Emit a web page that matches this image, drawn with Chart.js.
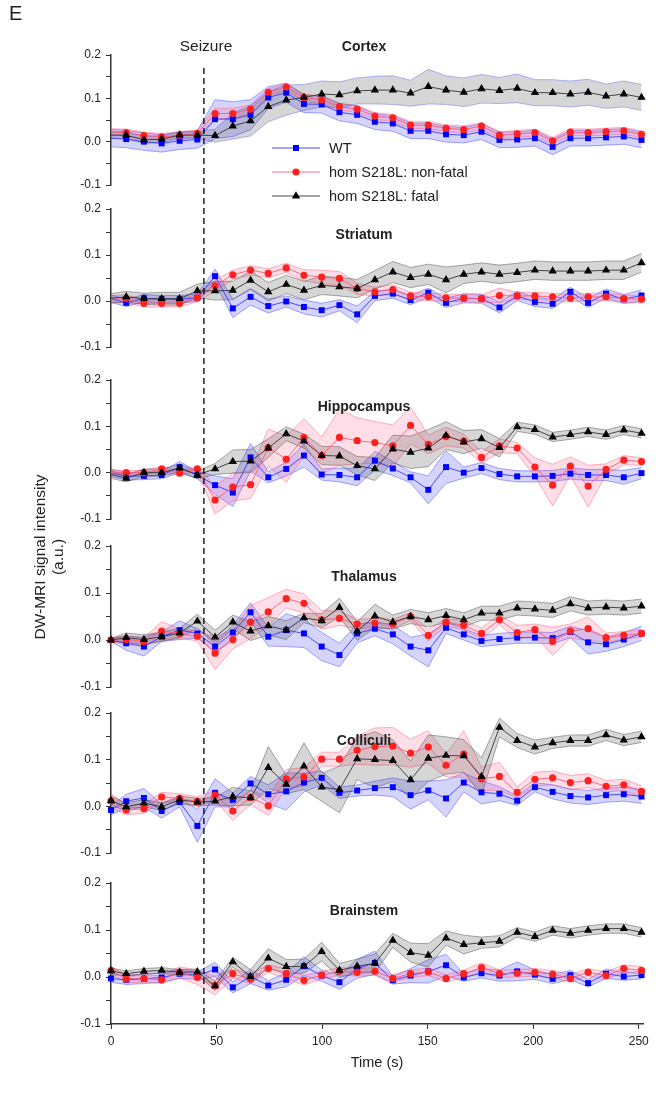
<!DOCTYPE html>
<html>
<head>
<meta charset="utf-8">
<script src="https://cdn.jsdelivr.net/npm/chart.js@4.4.0/dist/chart.umd.min.js"></script>
<style>
  html, body { margin: 0; padding: 0; background: #fff; }
  #page { position: relative; width: 671px; height: 1093px; overflow: hidden;
          font-family: "Liberation Sans", Arial, sans-serif; color: #222; }
  #page canvas { position: absolute; left: 0; top: 0; }
  .lbl { position: absolute; white-space: nowrap; z-index: 5; }
  .title { font-weight: bold; font-size: 14px; transform: translate(-50%, -50%); }
  .ytitle { font-size: 15.5px; transform: translate(-50%, -50%) rotate(-90deg); }
  .leg { font-size: 14.5px; transform: translateY(-50%); }
  .legsym { position: absolute; z-index: 5; }
</style>
</head>
<body>
<div id="page">
  <div class="lbl" style="left:9px;top:2px;font-size:20px;">E</div>
  <div class="lbl" style="left:206px;top:46px;font-size:15.5px;transform:translate(-50%,-50%);">Seizure</div>
  <div class="lbl ytitle" style="left:40px;top:557px;">DW-MRI signal intensity</div>
  <div class="lbl ytitle" style="left:58px;top:557px;">(a.u.)</div>
  <div id="legend"></div>
  <div id="titles"></div>
</div>
<script>
// Acquisition times (s)
const TIMES = [0, 7.2, 15.6, 24.0, 32.5, 40.9, 49.3, 57.7, 66.1, 74.5, 83.0, 91.4, 99.8, 108.2,
  116.6, 125.0, 133.5, 141.9, 150.3, 158.7, 167.1, 175.5, 184.0, 192.4, 200.8, 209.2, 217.6,
  226.0, 234.5, 242.9, 251.3];
const SEIZURE_TIME = 44;
const X_TICKS = [0, 50, 100, 150, 200, 250];
const Y_TICKS = [-0.1, -0.05, 0, 0.05, 0.1, 0.15, 0.2];
const SERIES_NAMES = ['WT', 'hom S218L: non-fatal', 'hom S218L: fatal'];
const REGIONS = ['Cortex', 'Striatum', 'Hippocampus', 'Thalamus', 'Colliculi', 'Brainstem'];

// Cortex: mean and SEM per group
const CORTEX_WT = [0.008, 0.006, 0.0, -0.004, 0.002, 0.005, 0.052, 0.052, 0.062, 0.102, 0.113, 0.087, 0.086, 0.068, 0.062, 0.046, 0.042, 0.025, 0.025, 0.017, 0.015, 0.023, 0.004, 0.005, 0.008, -0.012, 0.008, 0.008, 0.010, 0.012, 0.004];
const CORTEX_WT_SEM = [0.02, 0.02, 0.02, 0.02, 0.02, 0.02, 0.045, 0.04, 0.035, 0.025, 0.022, 0.02, 0.02, 0.02, 0.02, 0.018, 0.018, 0.018, 0.018, 0.018, 0.018, 0.018, 0.018, 0.018, 0.018, 0.018, 0.018, 0.018, 0.018, 0.018, 0.018];
const CORTEX_NF = [0.022, 0.021, 0.014, 0.011, 0.015, 0.019, 0.065, 0.065, 0.075, 0.114, 0.126, 0.102, 0.096, 0.081, 0.075, 0.059, 0.055, 0.038, 0.038, 0.031, 0.028, 0.036, 0.015, 0.018, 0.021, 0.002, 0.022, 0.021, 0.023, 0.025, 0.017];
const CORTEX_NF_SEM = [0.008, 0.008, 0.008, 0.008, 0.008, 0.008, 0.012, 0.012, 0.01, 0.008, 0.008, 0.008, 0.008, 0.008, 0.008, 0.008, 0.008, 0.008, 0.008, 0.008, 0.008, 0.008, 0.008, 0.008, 0.008, 0.008, 0.008, 0.008, 0.008, 0.008, 0.008];
const CORTEX_F = [0.015, 0.015, 0.004, 0.006, 0.015, 0.015, 0.014, 0.036, 0.048, 0.081, 0.096, 0.102, 0.110, 0.108, 0.117, 0.119, 0.119, 0.112, 0.127, 0.119, 0.114, 0.122, 0.118, 0.123, 0.113, 0.113, 0.110, 0.114, 0.105, 0.110, 0.102];
const CORTEX_F_SEM = [0.008, 0.008, 0.008, 0.008, 0.008, 0.008, 0.015, 0.03, 0.035, 0.035, 0.035, 0.03, 0.03, 0.03, 0.03, 0.032, 0.033, 0.03, 0.04, 0.033, 0.033, 0.033, 0.03, 0.033, 0.03, 0.03, 0.03, 0.03, 0.028, 0.03, 0.03];

// Striatum
const STR_WT = [0.005, -0.004, 0.006, 0.004, 0.004, 0.007, 0.054, -0.016, 0.009, -0.011, -0.001, -0.013, -0.020, -0.009, -0.029, 0.011, 0.016, 0.002, 0.018, -0.004, 0.006, 0.005, -0.014, 0.011, -0.002, -0.006, 0.020, -0.004, 0.016, 0.004, 0.012];
const STR_WT_SEM = [0.008, 0.008, 0.008, 0.008, 0.008, 0.008, 0.015, 0.02, 0.018, 0.015, 0.012, 0.015, 0.015, 0.012, 0.018, 0.01, 0.01, 0.01, 0.01, 0.01, 0.01, 0.01, 0.012, 0.01, 0.01, 0.01, 0.01, 0.01, 0.01, 0.01, 0.012];
const STR_NF = [0.004, 0.005, -0.005, -0.005, -0.005, 0.007, 0.033, 0.057, 0.067, 0.060, 0.072, 0.056, 0.052, 0.049, 0.027, 0.020, 0.025, 0.011, 0.009, 0.007, 0.006, 0.005, 0.012, 0.011, 0.011, 0.009, 0.006, 0.009, 0.009, 0.005, 0.004];
const STR_NF_SEM = [0.008, 0.008, 0.008, 0.008, 0.008, 0.008, 0.012, 0.01, 0.01, 0.01, 0.01, 0.012, 0.015, 0.015, 0.012, 0.01, 0.01, 0.008, 0.008, 0.008, 0.008, 0.008, 0.016, 0.008, 0.008, 0.008, 0.008, 0.008, 0.008, 0.008, 0.008];
const STR_F = [0.006, 0.009, 0.005, 0.005, 0.005, 0.022, 0.022, 0.023, 0.045, 0.020, 0.036, 0.023, 0.034, 0.031, 0.027, 0.046, 0.063, 0.051, 0.058, 0.046, 0.058, 0.063, 0.058, 0.062, 0.067, 0.065, 0.065, 0.065, 0.067, 0.067, 0.083];
const STR_F_SEM = [0.01, 0.012, 0.012, 0.014, 0.014, 0.015, 0.02, 0.02, 0.02, 0.02, 0.02, 0.02, 0.02, 0.02, 0.02, 0.02, 0.023, 0.022, 0.022, 0.028, 0.02, 0.02, 0.02, 0.02, 0.02, 0.02, 0.02, 0.02, 0.02, 0.02, 0.02];

// Hippocampus
const HIP_WT = [0.0, -0.008, -0.007, -0.005, 0.012, -0.005, -0.027, -0.043, 0.033, -0.010, 0.008, 0.037, -0.004, -0.005, -0.010, 0.026, 0.009, -0.010, -0.037, 0.012, 0.0, 0.010, -0.003, -0.008, -0.008, -0.007, -0.002, -0.005, -0.005, -0.010, -0.001];
const HIP_WT_SEM = [0.008, 0.008, 0.008, 0.008, 0.012, 0.008, 0.02, 0.03, 0.03, 0.012, 0.015, 0.025, 0.012, 0.015, 0.018, 0.02, 0.015, 0.012, 0.03, 0.035, 0.012, 0.012, 0.012, 0.012, 0.012, 0.012, 0.012, 0.012, 0.012, 0.015, 0.012];
const HIP_NF = [0.0, 0.0, 0.0, 0.008, -0.001, 0.008, -0.059, -0.031, -0.026, 0.054, 0.029, 0.076, 0.037, 0.076, 0.069, 0.065, 0.058, 0.102, 0.061, 0.078, 0.068, 0.033, 0.058, 0.053, 0.012, -0.027, 0.014, -0.029, 0.007, 0.027, 0.024];
const HIP_NF_SEM = [0.005, 0.005, 0.005, 0.005, 0.005, 0.005, 0.03, 0.03, 0.03, 0.04, 0.05, 0.04, 0.04, 0.06, 0.05, 0.045, 0.045, 0.04, 0.02, 0.02, 0.015, 0.012, 0.015, 0.012, 0.02, 0.045, 0.02, 0.045, 0.012, 0.01, 0.008];
const HIP_F = [-0.004, -0.012, 0.0, 0.0, 0.010, -0.005, 0.008, 0.024, 0.025, 0.053, 0.084, 0.068, 0.037, 0.036, 0.015, 0.008, 0.051, 0.044, 0.053, 0.080, 0.066, 0.073, 0.054, 0.099, 0.093, 0.077, 0.082, 0.088, 0.082, 0.092, 0.085];
const HIP_F_SEM = [0.008, 0.008, 0.008, 0.008, 0.008, 0.008, 0.012, 0.025, 0.025, 0.02, 0.015, 0.015, 0.02, 0.02, 0.02, 0.025, 0.03, 0.035, 0.04, 0.03, 0.025, 0.02, 0.02, 0.01, 0.01, 0.01, 0.01, 0.01, 0.01, 0.01, 0.01];

// Thalamus
const THA_WT = [0.0, -0.007, -0.014, 0.007, 0.021, 0.014, -0.014, 0.016, 0.059, 0.007, 0.021, 0.014, -0.014, -0.032, 0.014, 0.024, 0.012, -0.014, -0.022, 0.026, 0.012, -0.002, 0.002, 0.005, 0.005, 0.004, 0.017, -0.005, -0.009, 0.001, 0.014];
const THA_WT_SEM = [0.003, 0.015, 0.02, 0.01, 0.02, 0.01, 0.012, 0.015, 0.02, 0.02, 0.035, 0.03, 0.03, 0.025, 0.02, 0.015, 0.02, 0.02, 0.035, 0.012, 0.012, 0.012, 0.012, 0.012, 0.012, 0.012, 0.012, 0.025, 0.015, 0.015, 0.015];
const THA_NF = [0.0, 0.001, -0.003, 0.019, 0.014, 0.008, -0.028, 0.001, 0.038, 0.060, 0.088, 0.078, 0.043, 0.046, 0.034, 0.036, 0.034, 0.050, 0.010, 0.038, 0.031, 0.014, 0.043, 0.016, 0.022, -0.003, 0.019, 0.024, 0.005, 0.010, 0.014];
const THA_NF_SEM = [0.005, 0.008, 0.008, 0.02, 0.01, 0.01, 0.035, 0.02, 0.035, 0.03, 0.02, 0.02, 0.02, 0.015, 0.01, 0.01, 0.01, 0.008, 0.012, 0.008, 0.01, 0.012, 0.01, 0.015, 0.012, 0.03, 0.015, 0.025, 0.01, 0.008, 0.008];
const THA_F = [0.0, 0.005, 0.001, 0.007, 0.015, 0.040, 0.006, 0.038, 0.019, 0.030, 0.021, 0.047, 0.041, 0.069, 0.019, 0.051, 0.038, 0.050, 0.043, 0.052, 0.043, 0.057, 0.057, 0.068, 0.066, 0.063, 0.077, 0.068, 0.070, 0.068, 0.072];
const THA_F_SEM = [0.003, 0.01, 0.01, 0.01, 0.01, 0.015, 0.015, 0.015, 0.02, 0.02, 0.02, 0.01, 0.015, 0.02, 0.02, 0.025, 0.015, 0.015, 0.015, 0.015, 0.015, 0.015, 0.015, 0.015, 0.015, 0.015, 0.015, 0.015, 0.015, 0.015, 0.015];

// Colliculi
const COL_WT = [-0.008, 0.011, 0.018, -0.010, 0.009, -0.042, 0.029, 0.014, 0.049, 0.026, 0.032, 0.051, 0.061, 0.029, 0.034, 0.039, 0.041, 0.024, 0.034, 0.017, 0.051, 0.030, 0.027, 0.012, 0.041, 0.031, 0.022, 0.019, 0.024, 0.026, 0.021];
const COL_WT_SEM = [0.01, 0.015, 0.02, 0.015, 0.01, 0.035, 0.03, 0.015, 0.015, 0.02, 0.04, 0.02, 0.015, 0.012, 0.012, 0.015, 0.02, 0.03, 0.02, 0.04, 0.02, 0.025, 0.015, 0.01, 0.01, 0.015, 0.015, 0.015, 0.015, 0.015, 0.015];
const COL_NF = [0.012, -0.008, -0.005, 0.020, 0.017, 0.010, 0.024, -0.010, 0.019, 0.001, 0.059, 0.063, 0.101, 0.101, 0.120, 0.128, 0.129, 0.114, 0.127, 0.088, 0.112, 0.059, 0.064, 0.030, 0.058, 0.061, 0.051, 0.055, 0.043, 0.046, 0.032];
const COL_NF_SEM = [0.015, 0.01, 0.01, 0.01, 0.01, 0.01, 0.01, 0.02, 0.015, 0.02, 0.02, 0.02, 0.015, 0.015, 0.03, 0.04, 0.04, 0.03, 0.035, 0.025, 0.05, 0.025, 0.03, 0.012, 0.015, 0.015, 0.015, 0.015, 0.012, 0.012, 0.012];
const COL_F = [0.012, -0.001, 0.007, -0.001, 0.014, 0.009, 0.011, 0.021, 0.018, 0.083, 0.047, 0.086, 0.041, 0.036, 0.102, 0.100, 0.098, 0.057, 0.103, 0.109, 0.108, 0.064, 0.169, 0.141, 0.127, 0.136, 0.141, 0.141, 0.153, 0.142, 0.149];
const COL_F_SEM = [0.01, 0.008, 0.008, 0.008, 0.008, 0.008, 0.008, 0.02, 0.015, 0.045, 0.02, 0.05, 0.03, 0.05, 0.045, 0.06, 0.045, 0.04, 0.05, 0.04, 0.035, 0.04, 0.02, 0.015, 0.015, 0.012, 0.012, 0.012, 0.012, 0.012, 0.012];

// Brainstem
const BRA_WT = [-0.003, -0.006, -0.004, -0.001, 0.007, 0.003, 0.016, -0.022, 0.001, -0.018, -0.006, 0.023, 0.003, -0.011, 0.018, 0.030, -0.007, 0.003, 0.012, 0.025, -0.001, 0.008, 0.003, 0.012, 0.005, -0.004, 0.004, -0.013, 0.007, 0.001, 0.004];
const BRA_WT_SEM = [0.008, 0.01, 0.01, 0.01, 0.01, 0.008, 0.015, 0.012, 0.015, 0.01, 0.015, 0.02, 0.012, 0.015, 0.02, 0.025, 0.008, 0.015, 0.025, 0.023, 0.008, 0.01, 0.012, 0.02, 0.01, 0.01, 0.01, 0.008, 0.01, 0.008, 0.008];
const BRA_NF = [0.014, -0.004, -0.003, -0.006, 0.010, -0.001, -0.018, 0.007, -0.004, 0.018, 0.007, -0.007, 0.004, 0.012, 0.010, 0.012, -0.003, 0.007, 0.011, -0.003, 0.007, 0.020, 0.007, 0.008, 0.010, 0.006, -0.003, 0.010, 0.003, 0.018, 0.014];
const BRA_NF_SEM = [0.008, 0.008, 0.008, 0.008, 0.012, 0.015, 0.02, 0.01, 0.01, 0.008, 0.01, 0.01, 0.008, 0.008, 0.008, 0.008, 0.008, 0.008, 0.008, 0.008, 0.008, 0.01, 0.008, 0.008, 0.008, 0.008, 0.008, 0.008, 0.008, 0.008, 0.008];
const BRA_F = [0.013, 0.007, 0.012, 0.014, 0.010, 0.011, -0.019, 0.032, 0.001, 0.040, 0.022, 0.023, 0.054, 0.014, 0.023, 0.029, 0.078, 0.052, 0.046, 0.083, 0.069, 0.073, 0.076, 0.095, 0.086, 0.099, 0.093, 0.099, 0.103, 0.103, 0.095];
const BRA_F_SEM = [0.006, 0.006, 0.006, 0.006, 0.006, 0.006, 0.01, 0.01, 0.015, 0.02, 0.015, 0.015, 0.02, 0.015, 0.015, 0.02, 0.015, 0.02, 0.025, 0.015, 0.02, 0.012, 0.012, 0.01, 0.01, 0.01, 0.01, 0.01, 0.01, 0.01, 0.01];

// Group the arrays per region: [WT, non-fatal, fatal] each as [mean, sem]
const REGION_DATA = [
  [[CORTEX_WT, CORTEX_WT_SEM], [CORTEX_NF, CORTEX_NF_SEM], [CORTEX_F, CORTEX_F_SEM]],
  [[STR_WT, STR_WT_SEM], [STR_NF, STR_NF_SEM], [STR_F, STR_F_SEM]],
  [[HIP_WT, HIP_WT_SEM], [HIP_NF, HIP_NF_SEM], [HIP_F, HIP_F_SEM]],
  [[THA_WT, THA_WT_SEM], [THA_NF, THA_NF_SEM], [THA_F, THA_F_SEM]],
  [[COL_WT, COL_WT_SEM], [COL_NF, COL_NF_SEM], [COL_F, COL_F_SEM]],
  [[BRA_WT, BRA_WT_SEM], [BRA_NF, BRA_NF_SEM], [BRA_F, BRA_F_SEM]]
];

// Page layout of each panel (pixel rows of the y = 0.2 and y = -0.1 lines)
const PANEL_LAYOUT = [
  { top: 55,  bottom: 185,  titleY: 46,  firstMarker: false },
  { top: 209, bottom: 347,  titleY: 234, firstMarker: false },
  { top: 380, bottom: 519,  titleY: 406, firstMarker: false },
  { top: 546, bottom: 687,  titleY: 576, firstMarker: true },
  { top: 713, bottom: 853,  titleY: 740, firstMarker: true },
  { top: 883, bottom: 1024, titleY: 910, firstMarker: true }
];
const PLOT_LEFT = 111, PLOT_RIGHT = 643, PAGE_W = 671, PAGE_H = 1093;
const TITLE_X = 364;
const X_AXIS_HEIGHT = 52;

const STYLES = [
  { marker: '#0000ff', line: '#3a3aff', band: 'rgba(40,40,255,0.20)',  edge: 'rgba(70,70,255,0.6)',  shape: 'rect',     radius: 4.2 },
  { marker: '#ff2020', line: '#ff5a78', band: 'rgba(255,70,120,0.18)', edge: 'rgba(255,90,120,0.6)', shape: 'circle',   radius: 3.6 },
  { marker: '#000000', line: '#333333', band: 'rgba(70,70,70,0.22)',   edge: 'rgba(90,90,90,0.65)',  shape: 'triangle', radius: 4.8 }
];

Chart.defaults.font.family = '"Liberation Sans", Arial, sans-serif';
Chart.defaults.font.size = 12;
Chart.defaults.color = '#222';

function points(mean, sem, sign) {
  return TIMES.map((t, i) => ({ x: t, y: mean[i] + sign * (sem ? sem[i] : 0) }));
}

function buildDatasets(regionIdx) {
  const layout = PANEL_LAYOUT[regionIdx];
  const sets = [];
  REGION_DATA[regionIdx].forEach(([mean, sem], s) => {
    const st = STYLES[s];
    // fatal-group band in the cortex panel carries a bluish outline
    const edge = (regionIdx === 0 && s === 2) ? 'rgba(90,90,255,0.55)' : st.edge;
    const bandOrder = 5 - s;
    const lineOrder = 2 - s;
    sets.push({ label: SERIES_NAMES[s] + ' upper', data: points(mean, sem, 1), borderColor: edge,
      borderWidth: 0.8, pointRadius: 0, fill: false, order: bandOrder, tension: 0 });
    sets.push({ label: SERIES_NAMES[s] + ' lower', data: points(mean, sem, -1), borderColor: edge,
      borderWidth: 0.8, pointRadius: 0, fill: '-1', backgroundColor: st.band, order: bandOrder, tension: 0 });
    sets.push({ label: SERIES_NAMES[s], data: points(mean, null, 0), borderColor: st.line, borderWidth: 0.9,
      pointStyle: st.shape, backgroundColor: st.marker,
      pointRadius: (ctx) => (ctx.dataIndex === 0 && !layout.firstMarker) ? 0 : st.radius,
      pointBackgroundColor: st.marker, pointBorderColor: st.marker, pointBorderWidth: 0,
      fill: false, order: lineOrder, clip: false, tension: 0 });
  });
  return sets;
}

const seizureLine = {
  id: 'seizureLine',
  afterDraw(chart, args, opts) {
    if (!opts.enabled) return;
    const ctx = chart.ctx;
    const x = chart.scales.x.getPixelForValue(SEIZURE_TIME);
    ctx.save();
    ctx.setLineDash([6, 4]);
    ctx.lineWidth = 1.3;
    ctx.strokeStyle = '#000';
    ctx.beginPath();
    ctx.moveTo(x, opts.top);
    ctx.lineTo(x, chart.chartArea.bottom);
    ctx.stroke();
    ctx.restore();
  }
};

const page = document.getElementById('page');
REGIONS.forEach((name, r) => {
  const layout = PANEL_LAYOUT[r];
  const isLast = r === REGIONS.length - 1;
  const canvas = document.createElement('canvas');
  canvas.width = PAGE_W; canvas.height = PAGE_H;
  canvas.style.width = PAGE_W + 'px'; canvas.style.height = PAGE_H + 'px';
  page.appendChild(canvas);

  const padBottom = isLast ? PAGE_H - layout.bottom - X_AXIS_HEIGHT : PAGE_H - layout.bottom;
  new Chart(canvas, {
    type: 'line',
    data: { datasets: buildDatasets(r) },
    plugins: [seizureLine],
    options: {
      responsive: false, animation: false, devicePixelRatio: 1, events: [],
      layout: { padding: { top: layout.top, bottom: padBottom, left: 0, right: PAGE_W - PLOT_RIGHT } },
      plugins: {
        legend: { display: false }, tooltip: { enabled: false },
        seizureLine: { enabled: isLast, top: 68 }
      },
      scales: {
        x: {
          type: 'linear', min: 0, max: 252, display: isLast,
          afterBuildTicks: (s) => { s.ticks = X_TICKS.map(v => ({ value: v })); },
          ticks: { autoSkip: false, maxRotation: 0, padding: 5, color: '#222', font: { size: 12 } },
          grid: { drawOnChartArea: false, drawTicks: true, tickLength: 5, color: '#333' },
          border: { display: true, color: '#333', width: 1.5 },
          title: { display: true, text: 'Time (s)', font: { size: 14.5 }, color: '#222', padding: { top: 4, bottom: 4 } },
          afterFit: (s) => { s.height = isLast ? X_AXIS_HEIGHT : 0; }
        },
        y: {
          type: 'linear', min: -0.1, max: 0.2,
          afterBuildTicks: (s) => { s.ticks = Y_TICKS.map(v => ({ value: v })); },
          ticks: {
            autoSkip: false, padding: 5, color: '#222', font: { size: 12 },
            callback: (v, i) => (i % 2 === 0 ? Number(v).toFixed(1) : '')
          },
          grid: { drawOnChartArea: false, drawTicks: true, tickLength: 5, color: '#333' },
          border: { display: true, color: '#333', width: 1.5 },
          afterFit: (s) => { s.width = PLOT_LEFT; }
        }
      }
    }
  });

  const t = document.createElement('div');
  t.className = 'lbl title';
  t.style.left = TITLE_X + 'px';
  t.style.top = layout.titleY + 'px';
  t.textContent = name;
  document.getElementById('titles').appendChild(t);
});

// Legend: line sample with marker, then the group name
const LEGEND_ROWS = [148, 172, 196];
const legend = document.getElementById('legend');
SERIES_NAMES.forEach((name, s) => {
  const st = STYLES[s];
  const y = LEGEND_ROWS[s];
  let marker;
  if (st.shape === 'rect') marker = '<rect x="21" y="4" width="6" height="6" fill="' + st.marker + '"/>';
  else if (st.shape === 'circle') marker = '<circle cx="24" cy="7" r="3.6" fill="' + st.marker + '"/>';
  else marker = '<polygon points="24,2.2 28.2,9.4 19.8,9.4" fill="' + st.marker + '"/>';
  const sym = document.createElement('div');
  sym.className = 'legsym';
  sym.style.left = '272px';
  sym.style.top = (y - 7) + 'px';
  sym.innerHTML = '<svg width="50" height="14"><line x1="0" y1="7" x2="48" y2="7" stroke="' + st.line +
    '" stroke-width="0.9"/>' + marker + '</svg>';
  legend.appendChild(sym);
  const lab = document.createElement('div');
  lab.className = 'lbl leg';
  lab.style.left = '329px';
  lab.style.top = y + 'px';
  lab.textContent = name;
  legend.appendChild(lab);
});
</script>
</body>
</html>
